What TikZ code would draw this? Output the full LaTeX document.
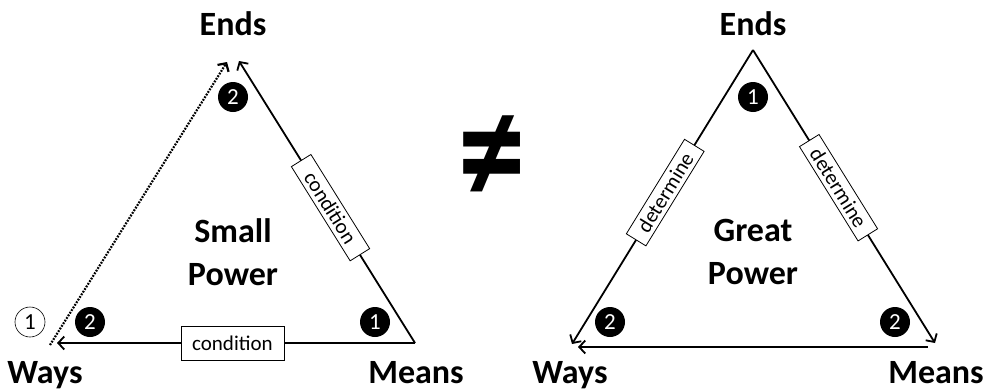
\documentclass[tikz,border=0pt]{standalone}
\usepackage{fontspec}
\setmainfont{Carlito}
\usetikzlibrary{arrows.meta, positioning}

\begin{document}
\begin{tikzpicture}[
  x=1pt, y=-1pt,
  every node/.style={font=\fontsize{21}{24}\selectfont},
  corner/.style={font=\fontsize{34}{40}\selectfont\bfseries, anchor=base},
  title/.style={font=\fontsize{34}{43}\selectfont\bfseries, align=center},
  tag/.style={draw, fill=white, line width=0.8pt, sloped, inner sep=0pt, minimum width=111pt, minimum height=23pt},
  flat/.style={tag, minimum width=103pt, minimum height=34pt},
  dot/.style={circle, fill=black, text=white, minimum size=30pt, inner sep=0pt, font=\fontsize{23}{24}\selectfont},
  hollow/.style={dot, draw=black, line width=0.6pt, fill=white, text=black},
  arr/.style={-{Straight Barb[length=6pt,width=13pt]}, line width=1.8pt},
  dots/.style={arr, line width=2.2pt, dash pattern=on 1.8pt off 1.3pt}
]
  \useasboundingbox (0,0) rectangle (990,391);

  \coordinate (lM) at (415,343);
  \coordinate (lW) at (57,343);
  \coordinate (lWd) at (50,345);
  \coordinate (lEa) at (227,62);
  \coordinate (lEb) at (239,61);

  \node[corner] (lends) at (233,35) {Ends};
  \node[corner] (lways) at (45,383) {Ways};
  \node[corner] (lmeans) at (416,383) {Means};
  \node[title] (small) at (233,252) {Small\\Power};

  \draw[dots] (lWd) -- (lEa);
  \draw[arr] (lM) -- node[tag, pos=0.48] (lcond1) {condition} (lEb);
  \draw[arr] (lM) -- node[flat, pos=0.51] (lcond2) {condition} (lW);

  \node[dot] (l2a) at (233,97) {2};
  \node[dot] (l2b) at (90,322) {2};
  \node[dot] (l1a) at (375,322) {1};
  \node[hollow] (l1b) at (30,322) {1};

  \node[font=\fontsize{135}{135}\selectfont\bfseries, yscale=1.2] (neq) at (492,160) {≠};

  \coordinate (rE) at (753,50);
  \coordinate (rW) at (572,344);
  \coordinate (rM) at (935,343);
  \coordinate (rWb) at (578,347);
  \coordinate (rMb) at (928,347);

  \node[corner] (rends) at (753,35) {Ends};
  \node[corner] (rways) at (570,383) {Ways};
  \node[corner] (rmeans) at (936,383) {Means};
  \node[title] (great) at (753,252) {Great\\Power};

  \draw[arr] (rE) -- node[tag, pos=0.485] (rdet1) {determine} (rW);
  \draw[arr] (rE) -- node[tag, pos=0.47] (rdet2) {determine} (rM);
  \draw[arr, {Straight Barb[length=6pt,width=13pt]}-] (rWb) -- (rMb);

  \node[dot] (r1a) at (753,97) {1};
  \node[dot] (r2a) at (610,322) {2};
  \node[dot] (r2b) at (895,322) {2};
\end{tikzpicture}
\end{document}
